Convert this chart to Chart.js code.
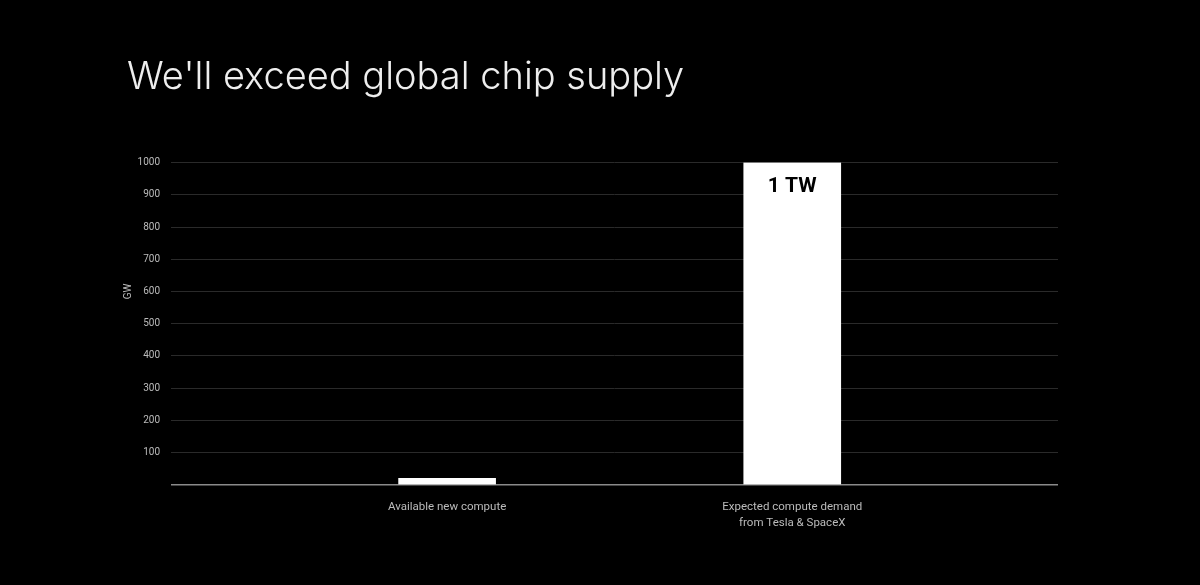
<!DOCTYPE html>
<html>
<head>
<meta charset="utf-8">
<script src="https://cdn.jsdelivr.net/npm/chart.js@4.4.1/dist/chart.umd.min.js"></script>
<style>
  html, body { margin: 0; padding: 0; background: #000; }
  #wrap { width: 1200px; height: 585px; position: relative; }
</style>
</head>
<body>
<div id="wrap"><canvas id="chipSupply"></canvas></div>
<script>
// data
var categories = [
    'Available new compute',
    ['Expected compute demand', 'from Tesla & SpaceX']
];
var gwValues = [20, 1000];
var barLabels = ['', '1 TW'];
var yTicks = [100, 200, 300, 400, 500, 600, 700, 800, 900, 1000];
var axisTitle = 'GW';
var axisTitleAt = 600;

// text inside the bars + the GW label next to the 600 tick
const slideText = {
    id: 'slideText',
    afterDatasetsDraw(chart) {
        const ctx = chart.ctx;
        const meta = chart.getDatasetMeta(0);
        ctx.save();
        ctx.fillStyle = '#000';
        ctx.font = 'bold 21px Roboto, sans-serif';
        ctx.textAlign = 'center';
        ctx.textBaseline = 'middle';
        meta.data.forEach((bar, i) => {
            if (barLabels[i]) {
                ctx.fillText(barLabels[i], bar.x, bar.y + 24);
            }
        });
        ctx.restore();

        const y = chart.scales.y;
        ctx.save();
        ctx.translate(y.left + 1, y.getPixelForValue(axisTitleAt));
        ctx.rotate(-Math.PI / 2);
        ctx.fillStyle = '#bbb';
        ctx.font = '10px Roboto, sans-serif';
        ctx.textAlign = 'center';
        ctx.textBaseline = 'middle';
        ctx.fillText(axisTitle, 0, 0);
        ctx.restore();
    }
};

var ctxChip = document.getElementById('chipSupply').getContext('2d');
const chipChart = new Chart(ctxChip, {
    type: 'bar',
    data: {
        datasets: [{
            data: gwValues.map((v, i) => ({ x: i, y: v })),
            backgroundColor: '#ffffff',
            borderWidth: 0,
            barThickness: 97
        }]
    },
    plugins: [slideText],
    options: {
        animation: false,
        maintainAspectRatio: false,
        responsive: true,
        layout: {
            padding: { left: 127, right: 142, top: 55, bottom: 48 }
        },
        plugins: {
            legend: { display: false },
            tooltip: { enabled: false },
            title: {
                display: true,
                text: "We'll exceed global chip supply",
                align: 'start',
                color: '#eeeeee',
                font: { family: 'Inter, sans-serif', size: 38, weight: '300' },
                padding: { top: 0, bottom: 62 }
            }
        },
        scales: {
            x: {
                type: 'linear',
                min: -0.8,
                max: 1.77,
                offset: false,
                grid: { display: false, offset: false },
                border: { display: false },
                afterBuildTicks: axis => {
                    axis.ticks = categories.map((c, i) => ({ value: i }));
                },
                ticks: {
                    color: '#bbb',
                    padding: 6,
                    maxRotation: 0,
                    autoSkip: false,
                    font: { family: 'Roboto, sans-serif', size: 11.5, lineHeight: 1.4 },
                    callback: value => categories[value]
                }
            },
            y: {
                min: 0,
                max: 1000,
                afterFit: axis => { axis.width = 44; },
                afterBuildTicks: axis => {
                    axis.ticks = [0].concat(yTicks).map(v => ({ value: v }));
                },
                grid: {
                    drawTicks: false,
                    color: ctx => ctx.tick && ctx.tick.value === 0 ? '#8a8a8a' : '#2a2a2a',
                    lineWidth: ctx => ctx.tick && ctx.tick.value === 0 ? 1.5 : 1
                },
                border: { display: false },
                ticks: {
                    color: '#bbb',
                    padding: 11,
                    font: { family: 'Roboto, sans-serif', size: 10 },
                    callback: value => value === 0 ? '' : value
                }
            }
        }
    }
});
</script>
</body>
</html>
